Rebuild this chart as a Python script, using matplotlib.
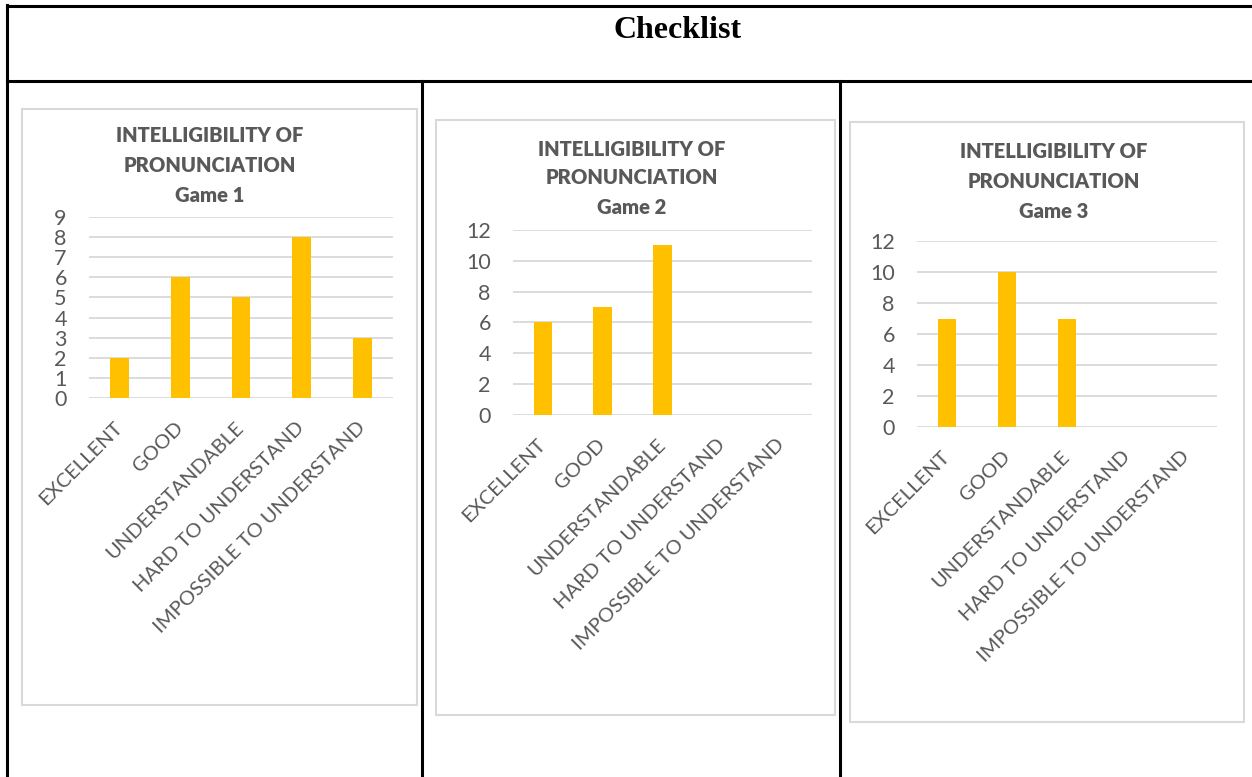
import matplotlib
matplotlib.use('Agg')
import matplotlib.pyplot as plt
from matplotlib.lines import Line2D
from matplotlib.patches import Rectangle

# categories and counts per game
categories = ['EXCELLENT', 'GOOD', 'UNDERSTANDABLE', 'HARD TO UNDERSTAND',
              'IMPOSSIBLE TO UNDERSTAND']
game1 = [2, 6, 5, 8, 3]
game2 = [6, 7, 11, 0, 0]
game3 = [7, 10, 7, 0, 0]
series = [game1, game2, game3]

y_max = [9, 12, 12]
y_step = [1, 2, 2]
title_lines = [
    ['INTELLIGIBILITY OF', 'PRONUNCIATION', 'Game 1'],
    ['INTELLIGIBILITY OF', 'PRONUNCIATION', 'Game 2'],
    ['INTELLIGIBILITY OF', 'PRONUNCIATION', 'Game 3'],
]
header = 'Checklist'

W, H = 1252, 777
bar_color = '#FFC000'
grid_color = '#D9D9D9'
text_color = '#595959'
font = 'Lato'

# layout in pixels: (left, top, right, bottom)
boxes = [(22, 109, 417, 705), (436, 120, 835, 715), (850, 122, 1244, 722)]
plots = [(89, 217, 393, 398), (513, 230, 812, 415), (917, 241, 1217, 427)]
title_x = [210, 632, 1054]
title_y = [(136, 166, 195), (149, 178, 207), (152, 182, 211)]


def fx(x):
    return x / W


def fy(y):
    return 1 - y / H


fig = plt.figure(figsize=(W / 100, H / 100), dpi=100)
fig.patch.set_facecolor('white')

# table frame
table_lines = [
    ((7, 1252), (6, 6)),
    ((7, 1252), (81, 81)),
    ((7, 7), (5, 777)),
    ((422, 422), (81, 777)),
    ((840, 840), (81, 777)),
]
for xs, ys in table_lines:
    fig.add_artist(Line2D([fx(v) for v in xs], [fy(v) for v in ys],
                          color='black', lw=2.2, transform=fig.transFigure))

fig.text(fx(678), fy(30), header, family='Liberation Serif', weight='bold',
         fontsize=23, ha='center', va='center', color='black')

for i in range(3):
    l, t, r, b = boxes[i]
    fig.add_artist(Rectangle((fx(l), fy(b)), fx(r) - fx(l), fy(t) - fy(b),
                             transform=fig.transFigure, facecolor='white',
                             edgecolor=grid_color, lw=1.5, zorder=-1))

    for line, yy in zip(title_lines[i], title_y[i]):
        fig.text(fx(title_x[i]), fy(yy), line, family=font, weight='heavy',
                 fontsize=14.5, ha='center', va='center', color=text_color)

    pl, pt, pr, pb = plots[i]
    ax = fig.add_axes([fx(pl), fy(pb), fx(pr) - fx(pl), fy(pt) - fy(pb)])
    ax.set_facecolor('none')
    x = range(len(categories))
    ax.bar(x, series[i], width=0.31, color=bar_color, zorder=3)
    ax.set_xlim(-0.5, len(categories) - 0.5)
    ax.set_ylim(0, y_max[i])
    ax.set_yticks(range(0, y_max[i] + 1, y_step[i]))
    ax.yaxis.grid(True, color=grid_color, lw=1.3, zorder=0)
    ax.set_axisbelow(True)
    for s in ax.spines.values():
        s.set_visible(False)
    ax.tick_params(axis='y', length=0, pad=16, labelsize=15.5,
                   labelcolor=text_color)
    ax.tick_params(axis='x', length=0, pad=19)
    ax.set_xticks(list(x))
    ax.set_xticklabels(categories, rotation=45, ha='right', va='center',
                       rotation_mode='anchor', fontsize=14.5,
                       color=text_color, family=font)
    for lab in ax.get_yticklabels():
        lab.set_family(font)

fig.savefig('out.png', dpi=100)
